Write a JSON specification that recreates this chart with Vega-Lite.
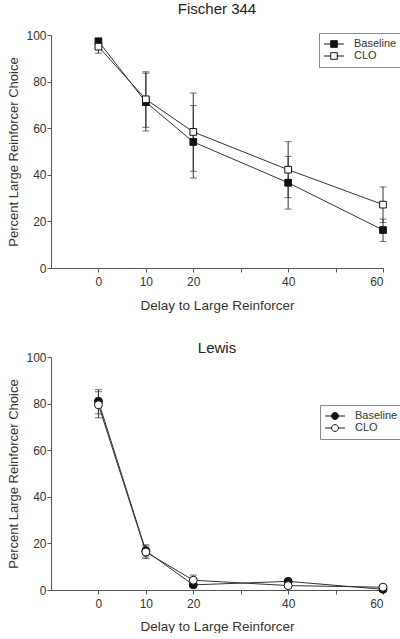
{
  "$schema": "https://vega.github.io/schema/vega-lite/v6.json",
  "padding": {"left": 7, "top": 2, "right": 1, "bottom": 0},
  "background": "white",
  "config": {
    "font": "Liberation Sans",
    "view": {"stroke": null},
    "axis": {"grid": false, "domainColor": "#555", "tickColor": "#555", "labelColor": "#333", "titleColor": "#333", "labelFont": "Liberation Sans", "titleFont": "Liberation Sans", "labelFontSize": 12, "titleFontWeight": "normal", "tickSize": 4},
    "axisX": {"labelPadding": 4, "titleFontSize": 13.5},
    "axisY": {"labelPadding": 1, "titleFontSize": 13, "titlePadding": 5},
    "title": {"font": "Liberation Sans", "fontSize": 15, "fontWeight": "normal", "color": "#222", "frame": "group"},
    "legend": {"labelFont": "Liberation Sans", "labelFontSize": 11, "labelColor": "#333", "strokeColor": "#888", "fillColor": "white", "padding": 5, "rowPadding": 0, "symbolSize": 121, "symbolOffset": 4, "labelOffset": 14, "symbolStrokeColor": "#111", "symbolStrokeWidth": 1, "symbolOpacity": 1}
  },
  "data": {"values": [
    {"panel": "F", "series": "Baseline", "delay": 0, "value": 97.3, "lower": 96.3, "upper": 98.3},
    {"panel": "F", "series": "Baseline", "delay": 10, "value": 71.2, "lower": 58.8, "upper": 83.6},
    {"panel": "F", "series": "Baseline", "delay": 20, "value": 54.1, "lower": 38.6, "upper": 69.7},
    {"panel": "F", "series": "Baseline", "delay": 40, "value": 36.6, "lower": 25.3, "upper": 47.9},
    {"panel": "F", "series": "Baseline", "delay": 60, "value": 16.3, "lower": 11.4, "upper": 21.0},
    {"panel": "F", "series": "CLO", "delay": 0, "value": 95.0, "lower": 92.2, "upper": 97.8},
    {"panel": "F", "series": "CLO", "delay": 10, "value": 72.4, "lower": 60.4, "upper": 84.2},
    {"panel": "F", "series": "CLO", "delay": 20, "value": 58.4, "lower": 41.5, "upper": 75.1},
    {"panel": "F", "series": "CLO", "delay": 40, "value": 42.2, "lower": 30.2, "upper": 54.2},
    {"panel": "F", "series": "CLO", "delay": 60, "value": 27.2, "lower": 19.5, "upper": 34.8},
    {"panel": "L", "series": "Baseline", "delay": 0, "value": 81.0, "lower": 75.6, "upper": 86.0},
    {"panel": "L", "series": "Baseline", "delay": 10, "value": 16.8, "lower": 14.2, "upper": 19.4},
    {"panel": "L", "series": "Baseline", "delay": 20, "value": 2.2, "lower": 1.2, "upper": 3.2},
    {"panel": "L", "series": "Baseline", "delay": 40, "value": 3.7, "lower": 2.9, "upper": 4.5},
    {"panel": "L", "series": "Baseline", "delay": 60, "value": 0.3, "lower": 0.0, "upper": 0.6},
    {"panel": "L", "series": "CLO", "delay": 0, "value": 79.5, "lower": 73.9, "upper": 85.1},
    {"panel": "L", "series": "CLO", "delay": 10, "value": 16.3, "lower": 13.5, "upper": 18.9},
    {"panel": "L", "series": "CLO", "delay": 20, "value": 4.2, "lower": 2.0, "upper": 6.4},
    {"panel": "L", "series": "CLO", "delay": 40, "value": 1.9, "lower": 1.2, "upper": 2.6},
    {"panel": "L", "series": "CLO", "delay": 60, "value": 1.2, "lower": 0.6, "upper": 1.8}
  ]},
  "vconcat": [
    {
      "title": {"text": "Fischer 344", "offset": 12},
      "width": 332,
      "height": 233,
      "transform": [{"filter": "datum.panel === 'F'"}],
      "encoding": {
        "x": {"field": "delay", "type": "quantitative", "scale": {"domain": [-10, 60], "nice": false, "zero": false}, "axis": {"title": "Delay to Large Reinforcer", "values": [0, 10, 20, 30, 40, 50, 60], "labelExpr": "datum.value == 30 || datum.value == 50 ? '' : datum.label", "titlePadding": 11}},
        "y": {"field": "value", "type": "quantitative", "scale": {"domain": [0, 100], "nice": false}, "axis": {"title": "Percent Large Reinforcer Choice", "values": [0, 20, 40, 60, 80, 100]}}
      },
      "layer": [
        {"mark": {"type": "rule", "color": "#333", "strokeWidth": 1}, "encoding": {"y": {"field": "lower", "type": "quantitative"}, "y2": {"field": "upper"}}},
        {"mark": {"type": "tick", "orient": "horizontal", "color": "#333", "size": 7, "thickness": 1}, "encoding": {"y": {"field": "lower", "type": "quantitative"}}},
        {"mark": {"type": "tick", "orient": "horizontal", "color": "#333", "size": 7, "thickness": 1}, "encoding": {"y": {"field": "upper", "type": "quantitative"}}},
        {"mark": {"type": "line", "color": "#333", "strokeWidth": 1}, "encoding": {"detail": {"field": "series"}}},
        {"mark": {"type": "point", "shape": "square", "size": 45, "stroke": "#111", "strokeWidth": 1, "opacity": 1},
         "encoding": {"fill": {"field": "series", "type": "nominal", "scale": {"domain": ["Baseline", "CLO"], "range": ["#111", "white"]},
           "legend": {"title": null, "orient": "none", "legendX": 268, "legendY": -2, "symbolType": "M-1.8,0L-0.6,0M0.6,0L1.8,0M-0.6,-0.6L0.6,-0.6L0.6,0.6L-0.6,0.6Z"}}}}
      ]
    },
    {
      "title": {"text": "Lewis", "offset": -5},
      "width": 332,
      "height": 233,
      "transform": [{"filter": "datum.panel === 'L'"}],
      "encoding": {
        "x": {"field": "delay", "type": "quantitative", "scale": {"domain": [-10, 60], "nice": false, "zero": false}, "axis": {"title": "Delay to Large Reinforcer", "values": [0, 10, 20, 30, 40, 50, 60], "labelExpr": "datum.value == 30 || datum.value == 50 ? '' : datum.label", "titlePadding": 10}},
        "y": {"field": "value", "type": "quantitative", "scale": {"domain": [0, 100], "nice": false}, "axis": {"title": "Percent Large Reinforcer Choice", "values": [0, 20, 40, 60, 80, 100]}}
      },
      "layer": [
        {"mark": {"type": "rule", "color": "#333", "strokeWidth": 1}, "encoding": {"y": {"field": "lower", "type": "quantitative"}, "y2": {"field": "upper"}}},
        {"mark": {"type": "tick", "orient": "horizontal", "color": "#333", "size": 7, "thickness": 1}, "encoding": {"y": {"field": "lower", "type": "quantitative"}}},
        {"mark": {"type": "tick", "orient": "horizontal", "color": "#333", "size": 7, "thickness": 1}, "encoding": {"y": {"field": "upper", "type": "quantitative"}}},
        {"mark": {"type": "line", "color": "#333", "strokeWidth": 1}, "encoding": {"detail": {"field": "series"}}},
        {"mark": {"type": "point", "shape": "circle", "size": 64, "stroke": "#111", "strokeWidth": 1, "opacity": 1},
         "encoding": {"fill": {"field": "series", "type": "nominal", "scale": {"domain": ["Baseline", "CLO"], "range": ["#111", "white"]},
           "legend": {"title": null, "orient": "none", "legendX": 269, "legendY": 48, "symbolType": "M-1.8,0L-0.62,0M0.62,0L1.8,0M0.62,0A0.62,0.62,0,1,1,-0.62,0A0.62,0.62,0,1,1,0.62,0Z"}}}}
      ]
    }
  ],
  "resolve": {"scale": {"fill": "independent"}, "legend": {"fill": "independent"}},
  "spacing": 29
}
